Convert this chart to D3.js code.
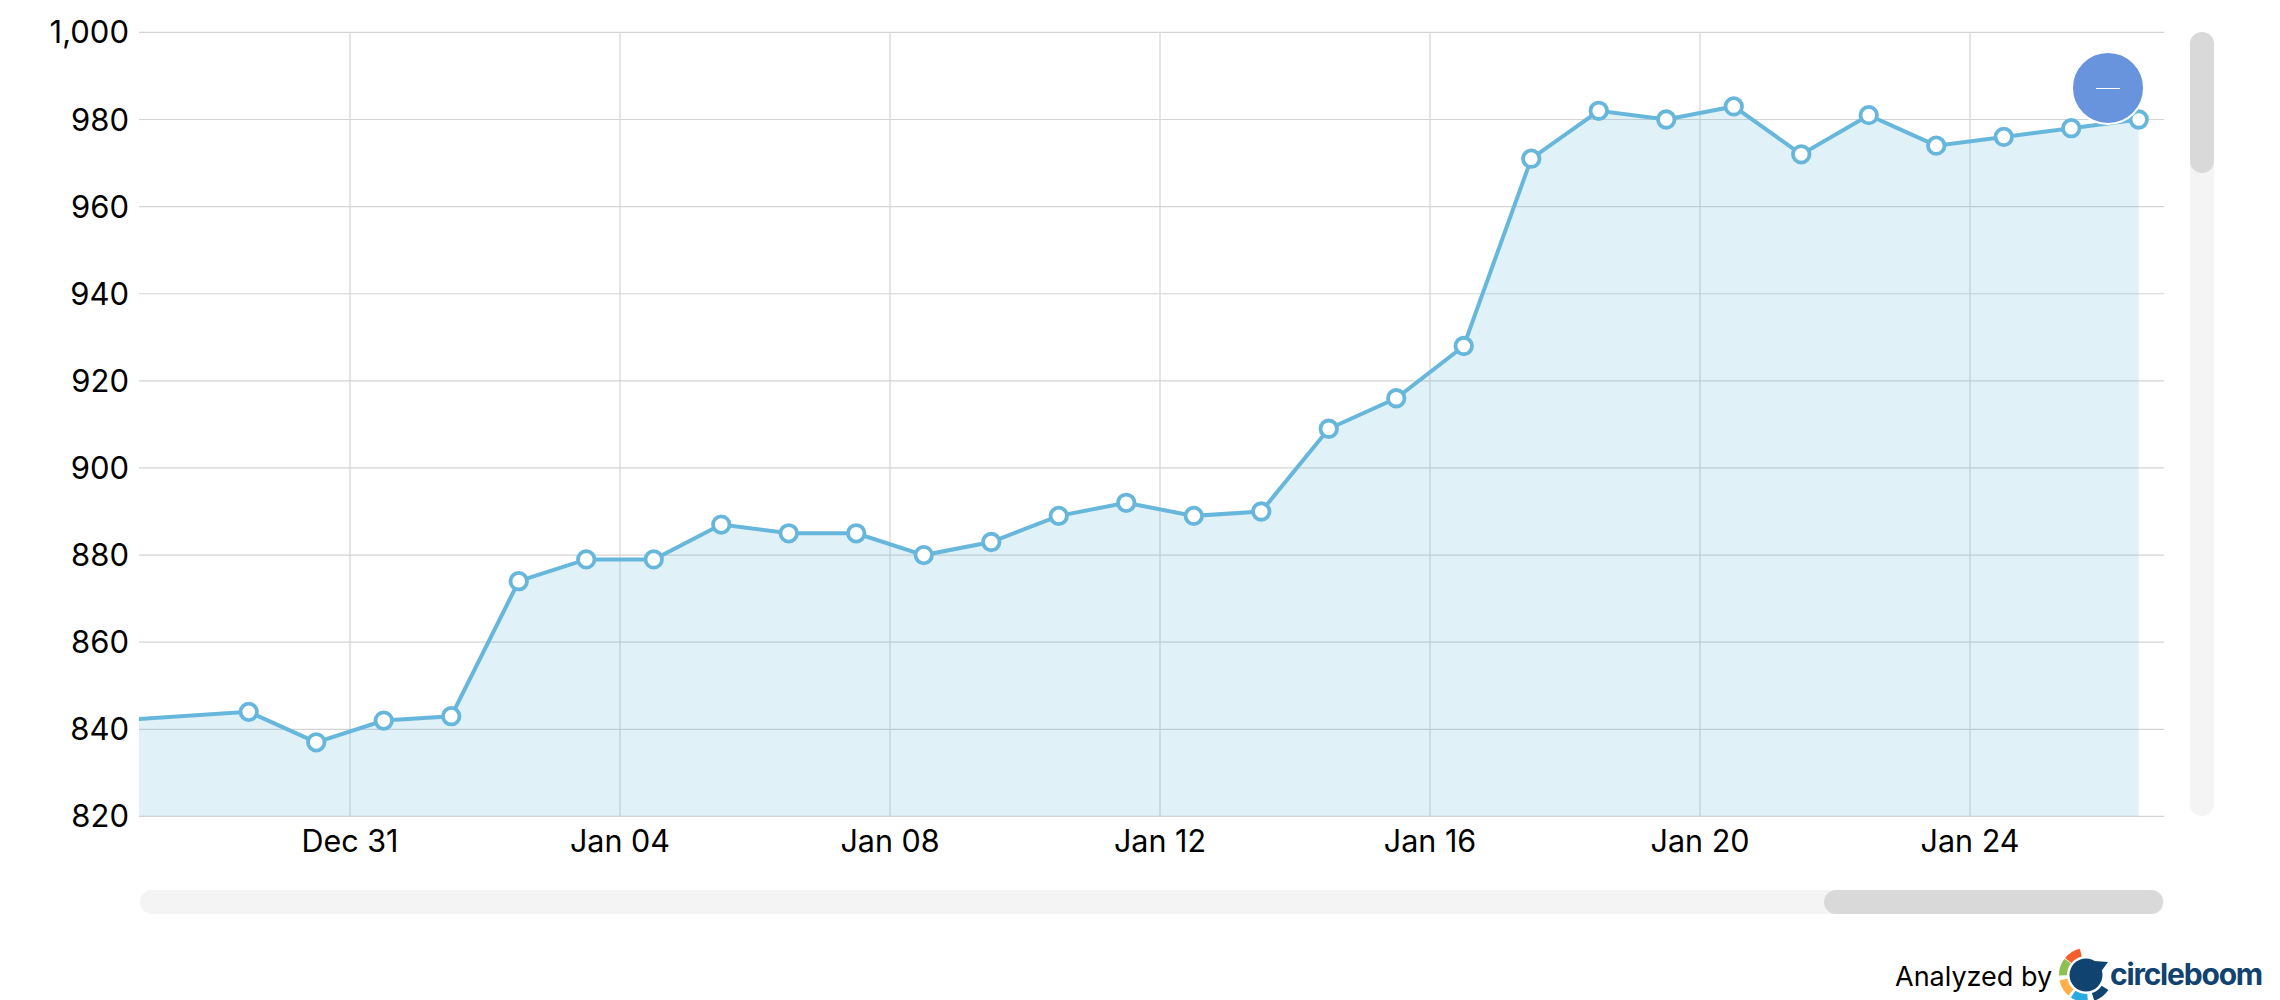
<!DOCTYPE html>
<html><head><meta charset="utf-8">
<script src="https://cdnjs.cloudflare.com/ajax/libs/d3/7.8.5/d3.min.js"></script>
<style>html,body{margin:0;padding:0;background:#fff}svg{display:block}text{font-family:Inter,sans-serif;fill:#000}</style>
</head><body>
<script>
// Dates are read as days, with the points sitting at midday
const firstDay = "2021-12-27T12:00:00Z";
const values = [842,844,837,842,843,874,879,879,887,885,885,880,883,889,892,889,890,909,916,928,971,982,980,983,972,981,974,976,978,980];
const gapAfterFirst = 2; // no point on the day after the first value
const yTicks = [820,840,860,880,900,920,940,960,980,1000];
const xTickDates = ["2021-12-31","2022-01-04","2022-01-08","2022-01-12","2022-01-16","2022-01-20","2022-01-24"];
const logoColors = ["#f65e2c","#8cc152","#fdb049","#29abe2","#10436f"];
const logoAngles = [-32,-72,-120,-165,143];

const W=2280,H=1000,L=139,R=2164,T=32.4,B=816.4;
const DAY=864e5;
const d0=new Date(firstDay).getTime();
const dates=values.map((v,i)=>new Date(d0+(i===0?0:i-1+gapAfterFirst)*DAY));
const x=d3.scaleUtc().domain([new Date(Date.UTC(2021,11,31)-(350-L)/67.5*DAY),new Date(Date.UTC(2021,11,31)+(R-350)/67.5*DAY)]).range([L,R]);
const y=d3.scaleLinear().domain([820,1000]).range([B,T]);
const svg=d3.select("body").append("svg").attr("width",W).attr("height",H);
svg.append("defs").append("clipPath").attr("id","plot").append("rect").attr("x",L).attr("y",T-10).attr("width",R-L).attr("height",B-T+10);

// grid
svg.append("g").selectAll("line").data(yTicks).join("line").attr("x1",L).attr("x2",R).attr("y1",d=>y(d)).attr("y2",d=>y(d)).attr("stroke","#d4d4d4").attr("stroke-width",1.2);
const xd=xTickDates.map(d=>new Date(d+"T00:00:00Z"));
svg.append("g").selectAll("line").data(xd).join("line").attr("x1",d=>x(d)).attr("x2",d=>x(d)).attr("y1",T).attr("y2",B).attr("stroke","#d4d4d4").attr("stroke-width",1.2);

const plot=svg.append("g").attr("clip-path","url(#plot)");
const pts=values.map((v,i)=>[dates[i],v]);
plot.append("path").attr("d",d3.area().x(d=>x(d[0])).y0(B).y1(d=>y(d[1]))(pts)).attr("fill","#67b7dc").attr("fill-opacity",.2);
plot.append("path").attr("d",d3.line().x(d=>x(d[0])).y(d=>y(d[1]))(pts)).attr("fill","none").attr("stroke","#67b7dc").attr("stroke-width",4);
svg.append("g").selectAll("circle").data(pts.slice(1)).join("circle").attr("cx",d=>x(d[0])).attr("cy",d=>y(d[1])).attr("r",8.25).attr("fill","#fff").attr("stroke","#67b7dc").attr("stroke-width",3.8);

// axis labels
svg.append("g").selectAll("text").data(yTicks).join("text").attr("x",129).attr("y",d=>y(d)+11).attr("text-anchor","end").attr("font-size",31).text(d3.format(","));
const fmt=d3.utcFormat("%b %d");
svg.append("g").selectAll("text").data(xd).join("text").attr("x",d=>x(d)).attr("y",852).attr("text-anchor","middle").attr("font-size",30.5).text(fmt);

// scrollbars
svg.append("rect").attr("x",2190).attr("y",32).attr("width",24).attr("height",784).attr("rx",12).attr("fill","#f4f4f4");
svg.append("rect").attr("x",2190).attr("y",32).attr("width",24).attr("height",141).attr("rx",12).attr("fill","#d9d9d9");
svg.append("rect").attr("x",140).attr("y",890).attr("width",2024).attr("height",24).attr("rx",12).attr("fill","#f4f4f4");
svg.append("rect").attr("x",1824).attr("y",890).attr("width",339).attr("height",24).attr("rx",12).attr("fill","#d9d9d9");

// zoom-out button
svg.append("circle").attr("cx",2108).attr("cy",88).attr("r",36).attr("fill","#6794dc").attr("stroke","#fff").attr("stroke-width",2);
svg.append("line").attr("x1",2096).attr("x2",2120).attr("y1",88.5).attr("y2",88.5).attr("stroke","#fff").attr("stroke-width",1);

// footer
svg.append("text").attr("x",1895).attr("y",986).attr("font-size",27).text("Analyzed by");
const logo=svg.append("g").attr("transform","translate(2086,975)");
const arc=d3.arc().innerRadius(19).outerRadius(27);
logo.selectAll("path").data(logoAngles).join("path").attr("d",a=>arc({startAngle:(a-19)*Math.PI/180,endAngle:(a+19)*Math.PI/180})).attr("fill",(a,i)=>logoColors[i]);
logo.append("circle").attr("r",16.5).attr("fill","#10436f");
logo.append("path").attr("d","M8,-14 L22,-13 L14,-2 Z").attr("fill","#10436f");
svg.append("text").attr("x",2110).attr("y",985).attr("font-size",30).attr("font-weight",700).attr("letter-spacing",-1.2).style("fill","#10436f").text("circleboom");
</script>
</body></html>
